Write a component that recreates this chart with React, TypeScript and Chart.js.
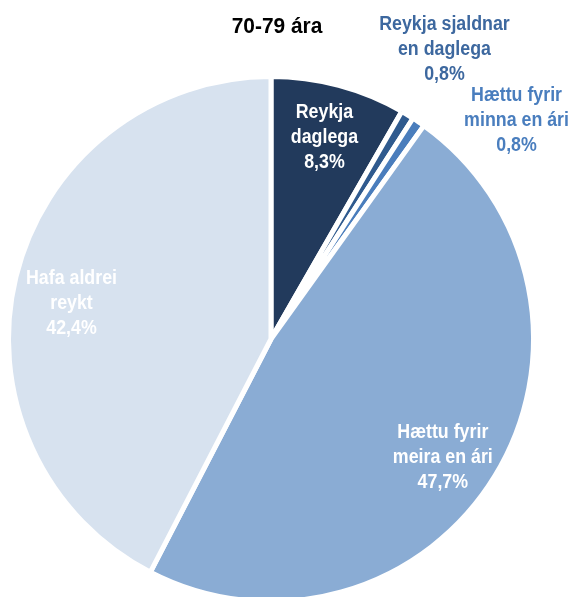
import React, { useEffect, useRef } from "react";
import { Chart, registerables } from "chart.js";

Chart.register(...registerables);

const title = "70-79 ára";
const categories = [
  ["Reykja", "daglega"],
  ["Reykja sjaldnar", "en daglega"],
  ["Hættu fyrir", "minna en ári"],
  ["Hættu fyrir", "meira en ári"],
  ["Hafa aldrei", "reykt"],
];
const values = [8.3, 0.8, 0.8, 47.7, 42.4];
const sliceColors = ["#223A5C", "#2F5A8E", "#4A7DBC", "#8AACD4", "#D7E2EF"];
const labelColors = ["#FFFFFF", "#3D689F", "#4A7EBE", "#FFFFFF", "#FFFFFF"];
const labelInside = [true, false, false, true, true];

const FONT = '"Liberation Sans", Arial, sans-serif';

const fmt = (v: number) => v.toFixed(1).replace(".", ",") + "%";

function narrowText(ctx: any, t: string, x: number, y: number, sx: number) {
  ctx.save();
  ctx.translate(x, y);
  ctx.scale(sx, 1);
  ctx.fillText(t, 0, 0);
  ctx.restore();
}

const labelPlugin = {
  id: "sliceLabels",
  afterDraw(chart: any) {
    const ctx = chart.ctx;
    const meta = chart.getDatasetMeta(0);
    ctx.save();
    ctx.textAlign = "center";
    ctx.textBaseline = "middle";
    const first = meta.data[0];
    ctx.font = `bold 22px ${FONT}`;
    ctx.fillStyle = "#000000";
    narrowText(ctx, title, first.x + 6, 27, 0.95);

    ctx.font = `bold 20px ${FONT}`;
    const lh = 25;
    // label nudges relative to the computed anchor
    const offsets: [number, number][] = [
      [0, -1],
      [37, -65],
      [98, -1],
      [-5, 10],
      [2, 14],
    ];
    meta.data.forEach((arc: any, i: number) => {
      const mid = (arc.startAngle + arc.endAngle) / 2;
      const r = labelInside[i] ? arc.outerRadius * 0.79 : arc.outerRadius;
      const cx = arc.x + Math.cos(mid) * r + offsets[i][0];
      const cy = arc.y + Math.sin(mid) * r + offsets[i][1];
      const lines = [...categories[i], fmt(values[i])];
      ctx.fillStyle = labelColors[i];
      lines.forEach((t, k) => {
        narrowText(ctx, t, cx, cy + (k - (lines.length - 1) / 2) * lh, 0.89);
      });
    });
    ctx.restore();
  },
};

export default function App() {
  const ref = useRef<HTMLCanvasElement>(null);
  useEffect(() => {
    if (!ref.current) return;
    const chart = new Chart(ref.current, {
      type: "pie",
      data: {
        labels: categories.map((c) => c.join(" ")),
        datasets: [
          {
            data: values,
            backgroundColor: sliceColors,
            borderColor: "#FFFFFF",
            borderWidth: 5,
          },
        ],
      },
      options: {
        responsive: false,
        animation: false,
        layout: { padding: { left: 6, right: 40, top: 74, bottom: 16 } },
        plugins: {
          legend: { display: false },
          tooltip: { enabled: false },
          title: { display: false },
        },
      },
      plugins: [labelPlugin],
    });
    return () => chart.destroy();
  }, []);
  return (
    <div
      style={{
        position: "absolute",
        left: 0,
        top: 0,
        width: 576,
        height: 597,
        overflow: "hidden",
        background: "#fff",
      }}
    >
      <canvas ref={ref} width={576} height={620} style={{ display: "block" }} />
    </div>
  );
}
